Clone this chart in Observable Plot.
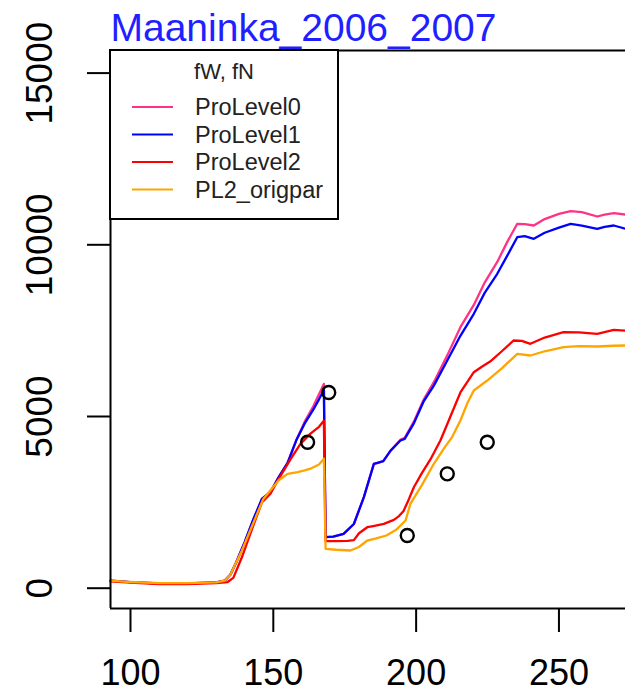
<!DOCTYPE html>
<html><head><meta charset="utf-8">
<script src="https://cdn.jsdelivr.net/npm/d3@7"></script>
<script src="https://cdn.jsdelivr.net/npm/@observablehq/plot@0.6"></script>
<style>
body{margin:0;background:#fff;}
#wrap{position:relative;width:625px;height:693px;overflow:hidden;background:#fff}
</style>
</head><body><div id="wrap"></div>
<script>
const chartTitle = "Maaninka_2006_2007";
const legendTitle = "fW, fN";
const seriesNames = ["ProLevel0", "ProLevel1", "ProLevel2", "PL2_origpar"];
const seriesColors = ["#ff3385", "#0000ff", "#ff0000", "#ffa500"];
const xTicks = [100, 150, 200, 250];
const yTicks = [0, 5000, 10000, 15000];
const xDomain = [93, 273.3];
const yDomain = [-591, 15658];

// ProLevel0
const pl0Days = [93,100,110,120,130,133,135,137,140,143,146,147.5,149,152,155,158,161,164,166,167.7,168.3,171,174.6,178.2,181.7,185.2,186.5,188.5,191,194.5,196,199.2,202.7,206.2,210.9,215.5,220.2,224,228.4,232,235.4,238,241.2,245,250,254.1,258,263.4,266,269.2,273.3];
const pl0Vals = [220,180,140,140,170,220,400,750,1350,2000,2600,2700,2800,3250,3650,4300,4850,5300,5650,5950,1485,1500,1580,1870,2650,3620,3650,3700,4000,4320,4380,4850,5500,6000,6780,7600,8250,8900,9500,10100,10612,10600,10562,10750,10900,10978,10950,10824,10880,10920,10880];
// ProLevel1
const pl1Days = [93,100,110,120,130,133,135,137,140,143,146,147.5,149,152,155,158,161,164,166,167.7,168.3,171,174.6,178.2,181.7,185.2,186.5,188.5,191,194.5,196,199.2,202.7,206.2,210.9,215.5,220.2,224,228.4,232,235.4,238,241.2,245,250,254.1,258,263.4,266,269.2,273.3];
const pl1Vals = [220,180,140,140,170,220,400,750,1350,2000,2600,2700,2800,3250,3650,4300,4800,5200,5500,5770,1485,1500,1580,1870,2650,3620,3650,3700,4000,4300,4350,4800,5450,5900,6630,7350,7990,8600,9155,9700,10221,10250,10174,10350,10500,10612,10560,10466,10520,10562,10466];
// ProLevel2
const pl2Days = [93,100,110,120,130,134,136,139,142,146,149,152,156,159.5,163,166,167.7,168.3,172,176,178.2,180,182.9,185,188.7,192.2,194,195.6,197.5,199.2,202,205,208.5,212,215.5,220.2,223,225.9,230,234.1,237,240,245,251.6,257,263.4,269.2,273.3];
const pl2Vals = [200,160,120,120,150,180,300,900,1600,2500,2750,3200,3750,4200,4500,4700,4880,1370,1370,1380,1400,1600,1776,1810,1875,1990,2100,2250,2600,2941,3350,3750,4300,5000,5700,6290,6450,6600,6900,7213,7200,7117,7300,7455,7450,7408,7525,7500];
// PL2_origpar
const origDays = [93,100,110,120,130,133,135,139,143,146.5,149,152,155,156.5,158.5,161,163,166,167.7,168.3,172,177,180,182.9,186,189.6,193,196.3,198,202,206.2,210,212.6,215.5,218,220.2,224.9,230,235.4,240,245,251.6,257,263.4,269.2,273.3];
const origVals = [220,180,150,150,170,220,400,1100,1900,2600,2850,3150,3330,3350,3380,3430,3480,3600,3770,1147,1120,1098,1200,1389,1450,1535,1700,1971,2458,3000,3623,4100,4400,4883,5400,5757,6048,6400,6826,6776,6900,7018,7050,7039,7060,7068];

// observations
const obsDays = [162, 169.4, 196.9, 210.9, 224.9];
const obsVals = [4250, 5700, 1535, 3330, 4250];

const seriesDays = [pl0Days, pl1Days, pl2Days, origDays];
const seriesVals = [pl0Vals, pl1Vals, pl2Vals, origVals];
const tables = seriesNames.map((name, i) => seriesDays[i].map((d, j) => ({name, day: d, value: seriesVals[i][j]})));
const obs = obsDays.map((d, i) => ({day: d, value: obsVals[i]}));

const font = "'Liberation Sans', Arial, Helvetica, sans-serif";

const plot = Plot.plot({
  width: 625,
  height: 693,
  marginLeft: 110,
  marginRight: 0,
  marginTop: 50,
  marginBottom: 85,
  x: {domain: xDomain, label: null},
  y: {domain: yDomain, label: null},
  color: {domain: seriesNames, range: seriesColors},
  style: {fontFamily: font, background: "white", color: "black", overflow: "visible"},
  marks: [
    ...tables.map(t => Plot.line(t, {x: "day", y: "value", stroke: "name", strokeWidth: 2.3})),
    Plot.dot(obs, {x: "day", y: "value", r: 6.5, stroke: "black", strokeWidth: 2.4, fill: "none"}),
    Plot.axisX(xTicks, {tickSize: 24, tickPadding: 27, fontSize: 36, strokeWidth: 2, label: null, tickFormat: d => String(d)}),
    Plot.axisY(yTicks, {tickSize: 23, strokeWidth: 2, label: null, tickFormat: () => ""}),
    Plot.text(yTicks, {y: d => d, text: d => String(d), frameAnchor: "left", dx: -70, rotate: -90, textAnchor: "middle", lineAnchor: "middle", fontSize: 37, fill: "black"}),
    Plot.text([chartTitle], {text: d => d, frameAnchor: "top-left", dy: -10, lineAnchor: "bottom", textAnchor: "start", fontSize: 39, fill: "#1f1fff"}),
    Plot.ruleX([xDomain[0]], {strokeWidth: 2}),
    Plot.ruleY([yDomain[0], yDomain[1]], {strokeWidth: 2})
  ]
});

// legend inside plot area (top-left corner of frame)
const svg = d3.select(plot);
const lg = svg.append("g").attr("font-family", font).attr("text-anchor", "start");
lg.append("rect").attr("x", 110).attr("y", 50).attr("width", 228).attr("height", 169)
  .attr("fill", "white").attr("stroke", "black").attr("stroke-width", 2);
lg.append("text").attr("x", 224).attr("y", 79).attr("text-anchor", "middle")
  .attr("font-size", 22).attr("fill", "#222").text(legendTitle);
seriesNames.forEach((name, i) => {
  const cy = 107 + i * 27.5;
  lg.append("line").attr("x1", 132).attr("x2", 173).attr("y1", cy).attr("y2", cy)
    .attr("stroke", seriesColors[i]).attr("stroke-width", 2.2);
  lg.append("text").attr("x", 195).attr("y", cy + 8).attr("font-size", 23.5)
    .attr("text-anchor", "start").attr("fill", "#222").text(name);
});

document.getElementById("wrap").appendChild(plot);
</script>
</body></html>
